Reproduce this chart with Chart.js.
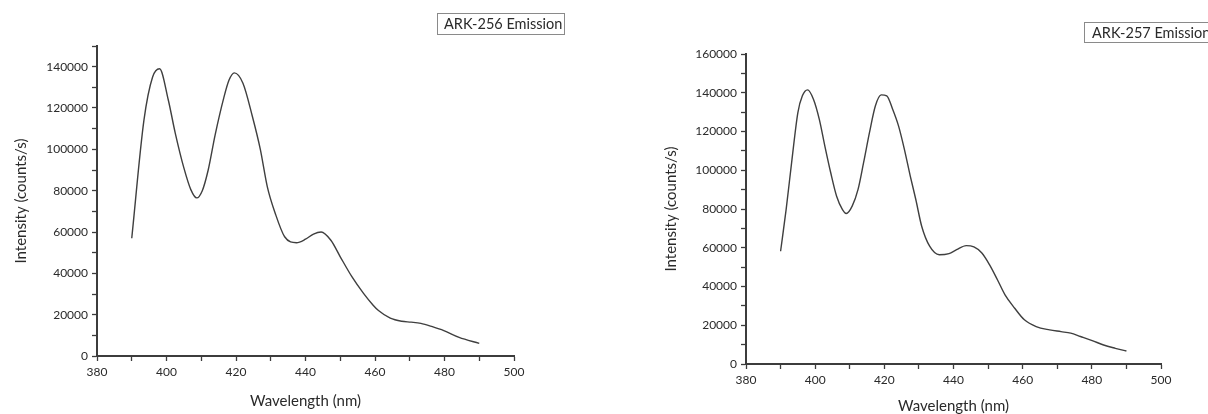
<!DOCTYPE html>
<html>
<head>
<meta charset="utf-8">
<script src="https://cdn.jsdelivr.net/npm/chart.js@4.4.1/dist/chart.umd.min.js"></script>
<style>
  html, body { margin: 0; padding: 0; background: #ffffff; }
  #wrap { position: relative; width: 1208px; height: 414px; overflow: hidden; background: #fff; }
  canvas { position: absolute; top: 0; }
</style>
</head>
<body>
<div id="wrap">
  <canvas id="c1" width="604" height="414" style="left:0px;width:604px;height:414px"></canvas>
  <canvas id="c2" width="604" height="414" style="left:604px;width:604px;height:414px"></canvas>
</div>
<script>
// ---- data ----
const titleLeft = "ARK-256 Emission";
const titleRight = "ARK-257 Emission";
const xAxisTitle = "Wavelength (nm)";
const yAxisTitle = "Intensity (counts/s)";

const wavelength256 = [390, 393.5, 396, 398, 400.5, 402.5, 405, 407, 408.7, 410.3, 412, 414, 416.5, 418, 419.5, 422, 424.7, 427, 429, 431.3, 434, 437.4, 440, 442.3, 444.5, 447.3, 450, 453.3, 456.7, 459.4, 461, 464.4, 467.7, 470.4, 473.2, 476.5, 479.8, 484.2, 490];
const intensity256 = [57000, 114000, 135000, 139000, 124000, 108000, 91000, 80500, 76500, 80000, 90000, 107000, 125000, 133500, 137000, 132000, 116000, 100000, 82000, 69000, 57700, 54800, 56500, 59000, 60000, 56000, 48000, 38500, 30300, 24700, 22000, 18300, 16800, 16400, 15800, 14200, 12300, 9000, 6100];

const wavelength257 = [390, 391.6, 393.3, 395, 396.3, 397.8, 399.5, 401.2, 402.8, 404.5, 406.2, 407.9, 409, 410.7, 412.4, 414, 415.7, 417.4, 419.1, 420.7, 422.4, 424.1, 425.8, 427.5, 429.1, 430.8, 433.1, 435.9, 438.7, 440.9, 443.7, 445.9, 448.2, 450.4, 452.7, 454.9, 457.7, 460.5, 463.9, 467.8, 471.1, 473.9, 476.7, 480.1, 483.4, 486.8, 490];
const intensity257 = [58200, 79700, 105600, 129800, 138400, 141500, 136700, 126300, 112500, 98700, 86600, 79700, 77700, 81500, 90100, 103900, 119400, 133200, 138900, 138400, 131500, 122900, 110800, 97000, 84900, 71100, 60800, 56400, 57000, 59000, 61100, 60400, 57300, 51300, 43500, 35700, 28800, 22800, 19300, 17600, 16700, 15900, 14200, 12100, 9800, 8100, 6700];

const xMin = 380, xMax = 500, xStep = 10, xLabelStep = 20;
const yMaxLeft = 150000, yMaxRight = 160000, yStep = 10000, yLabelStep = 20000;

// ---- styling / layout ----
const FONT = "Lato, 'Open Sans', sans-serif";
const AXIS = "#3c3c3c";
const TEXT = "#2a2a2a";

const boxPlugin = {
  id: 'titleBox',
  afterDraw(chart, args, o) {
    const c = chart.ctx;
    c.save();
    c.fillStyle = '#ffffff';
    c.fillRect(o.x, o.y, o.w, o.h);
    c.strokeStyle = '#8a8a8a';
    c.lineWidth = 1;
    c.strokeRect(o.x + 0.5, o.y + 0.5, o.w, o.h);
    c.font = '14.5px ' + FONT;
    c.fillStyle = TEXT;
    c.textBaseline = 'middle';
    c.textAlign = 'left';
    c.fillText(o.text, o.x + o.pad, o.y + o.h / 2 + 1);
    c.restore();
  }
};

function makeChart(id, xs, ys, yMax, cfg) {
  const pts = xs.map((x, i) => ({ x: x, y: ys[i] }));
  return new Chart(document.getElementById(id), {
    type: 'line',
    data: {
      datasets: [{
        data: pts,
        borderColor: '#3f3f3f',
        borderWidth: 1.4,
        pointRadius: 0,
        fill: false,
        cubicInterpolationMode: 'monotone'
      }]
    },
    options: {
      responsive: false,
      animation: false,
      events: [],
      layout: { padding: { left: 0, right: cfg.padRight, top: cfg.padTop, bottom: 0 } },
      plugins: {
        legend: { display: false },
        tooltip: { enabled: false },
        titleBox: cfg.box
      },
      scales: {
        x: {
          type: 'linear',
          min: xMin, max: xMax,
          afterFit: (s) => { s.height = cfg.xHeight; },
          border: { display: true, color: AXIS, width: 2 },
          grid: { drawOnChartArea: false, drawTicks: true, tickLength: 5, tickColor: AXIS, tickWidth: 1.3 },
          ticks: {
            stepSize: xStep, autoSkip: false, maxRotation: 0, padding: 4,
            color: TEXT, font: { family: FONT, size: 12 },
            callback: (v) => (v % xLabelStep === 0 ? String(v) : '')
          },
          title: {
            display: true, text: xAxisTitle, color: TEXT,
            font: { family: FONT, size: 15, lineHeight: 1 },
            padding: { top: 0, bottom: cfg.xTitlePad }
          }
        },
        y: {
          type: 'linear',
          min: 0, max: yMax,
          afterFit: (s) => { s.width = cfg.yWidth; },
          border: { display: true, color: AXIS, width: 2 },
          grid: { drawOnChartArea: false, drawTicks: true, tickLength: 5, tickColor: AXIS, tickWidth: 1.3 },
          ticks: {
            stepSize: yStep, autoSkip: false, padding: 4,
            color: TEXT, font: { family: FONT, size: 12 },
            callback: (v) => (v % yLabelStep === 0 ? String(v) : '')
          },
          title: {
            display: true, text: yAxisTitle, color: TEXT,
            font: { family: FONT, size: 15, lineHeight: 1 },
            padding: { top: cfg.yTitlePad, bottom: 0 }
          }
        }
      }
    },
    plugins: [boxPlugin]
  });
}

makeChart('c1', wavelength256, intensity256, yMaxLeft, {
  padRight: 90, padTop: 46, xHeight: 58, yWidth: 97, xTitlePad: 5.5, yTitlePad: 13.5,
  box: { text: titleLeft, x: 437, y: 13, w: 127, h: 21, pad: 7 }
});

makeChart('c2', wavelength257, intensity257, yMaxRight, {
  padRight: 47, padTop: 54, xHeight: 50, yWidth: 142, xTitlePad: 0, yTitlePad: 59.5,
  box: { text: titleRight, x: 480, y: 22, w: 130, h: 20, pad: 8 }
});
</script>
</body>
</html>
